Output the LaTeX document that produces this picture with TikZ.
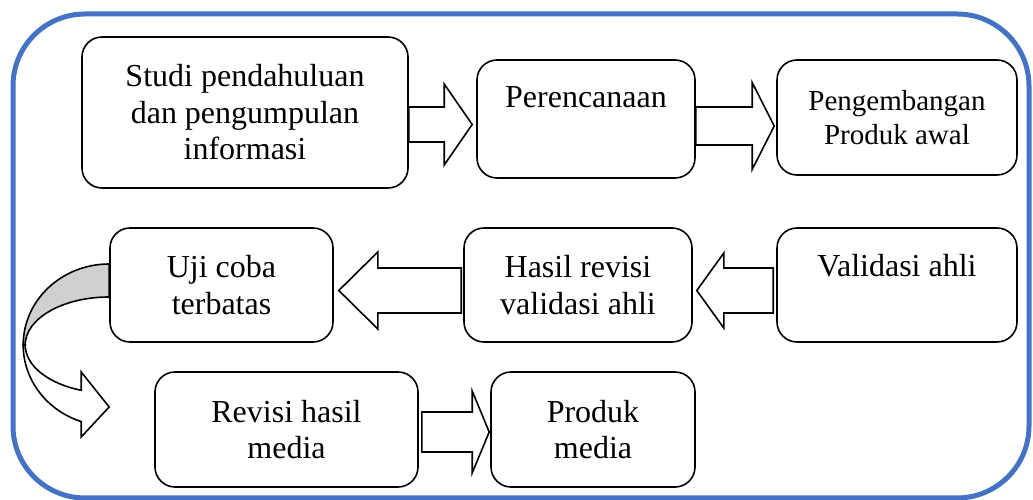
\documentclass[tikz,border=0pt]{standalone}
\usepackage{fontspec}
\setmainfont{Liberation Serif}
\usetikzlibrary{calc}

\definecolor{biru}{HTML}{4472C4}
\definecolor{abu}{HTML}{D0D0D0}

\begin{document}
\begin{tikzpicture}[
            x=1pt, y=1pt,
            kotak/.style={draw, rounded corners=20pt, align=center, inner sep=0pt,
                          line width=1.6pt, font=\fontsize{32}{36.5}\selectfont},
            panah/.style n args={3}{draw, fill=white, line width=1.6pt,
                to path={($(\tikztotarget)!#3!(\tikztostart)$) coordinate (pk)
                         ($(\tikztostart)!#1!90:(\tikztotarget)$)
                         -- ($(pk)!#1!-90:(\tikztostart)$)
                         -- ($(pk)!#2!-90:(\tikztostart)$)
                         -- (\tikztotarget)
                         -- ($(pk)!#2!90:(\tikztostart)$)
                         -- ($(pk)!#1!90:(\tikztostart)$)
                         -- ($(\tikztostart)!#1!-90:(\tikztotarget)$) -- cycle}},
            lengkung/.style={draw, line width=1.6pt},
            bingkai/.style={draw=biru, line width=5pt, rounded corners=72pt}
        ]
        \useasboundingbox (0,0) rectangle (1033,500);

        % Bingkai luar
        \draw[bingkai] (13,2) rectangle (1029,486);

        % --- Baris atas ---
        \node[kotak, minimum width=326pt, minimum height=151pt] (studi) at (245,387.5)
            {Studi pendahuluan\\dan pengumpulan\\informasi};
        \node[kotak, minimum width=218pt, minimum height=118pt,
              text height=22pt, text depth=44pt] (rencana) at (586,381) {Perencanaan};
        \node[kotak, minimum width=240pt, minimum height=115pt,
              font=\fontsize{29}{34}\selectfont] (kembang) at (897,382.5)
            {Pengembangan\\Produk awal};
        \draw[panah={17.5pt}{40.5pt}{28pt}] ([yshift=-12pt]studi.east)
            to ([xshift=-4pt,yshift=-5.5pt]rencana.west);
        \draw[panah={19pt}{43.5pt}{22pt}] ([yshift=-7pt]rencana.east)
            to ([xshift=-2pt,yshift=-8.5pt]kembang.west);

        % --- Baris tengah ---
        \node[kotak, minimum width=240pt, minimum height=114pt,
              text height=22pt, text depth=38pt] (validasi) at (897,215) {Validasi ahli};
        \node[kotak, minimum width=228pt, minimum height=114pt] (hasil) at (578,215)
            {Hasil revisi\\validasi ahli};
        \node[kotak, minimum width=223pt, minimum height=114pt] (uji) at (221.5,215)
            {Uji coba\\terbatas};
        \draw[panah={22.5pt}{37.5pt}{27pt}] ([xshift=-3pt,yshift=-5.5pt]validasi.west)
            to ([xshift=4pt,yshift=-5.5pt]hasil.east);
        \draw[panah={22.5pt}{38.5pt}{39pt}] ([xshift=-2pt,yshift=-5.5pt]hasil.west)
            to ([xshift=5pt,yshift=-5.5pt]uji.east);

        % --- Panah lengkung ---
        \filldraw[lengkung, fill=abu] ([yshift=21pt]uji.west)
            arc[start angle=90, end angle=180, x radius=86pt, y radius=81pt]
            -- ++(2pt,0pt)
            arc[start angle=180, end angle=90, x radius=84pt, y radius=48pt] -- cycle;
        \filldraw[lengkung, fill=white] ([xshift=-86pt,yshift=-60pt]uji.west)
            arc[start angle=180, end angle=251, x radius=86pt, y radius=81pt]
            -- ++(0pt,-15.4pt) -- ++(28pt,30pt) -- ++(-28pt,35pt) -- ++(0pt,-18.3pt)
            arc[start angle=250.5, end angle=180, x radius=84pt, y radius=48pt] -- cycle;

        % --- Baris bawah ---
        \node[kotak, minimum width=263pt, minimum height=115pt] (revisi) at (286.5,70.5)
            {Revisi hasil\\media};
        \node[kotak, minimum width=204pt, minimum height=115pt] (produk) at (593,70.5)
            {Produk\\media};
        \draw[panah={20pt}{41pt}{17pt}] ([xshift=3pt,yshift=-2.5pt]revisi.east)
            to ([xshift=-1pt,yshift=-2.5pt]produk.west);

        \end{tikzpicture}
\end{document}
